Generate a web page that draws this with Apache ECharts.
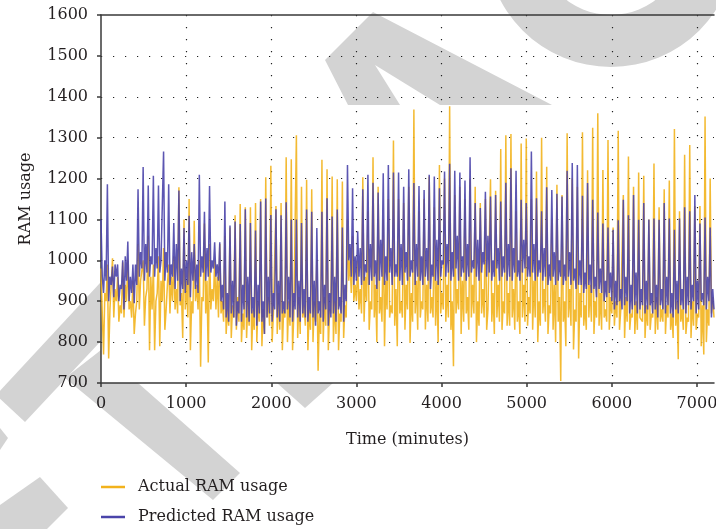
<!DOCTYPE html>
<html>
<head>
<meta charset="utf-8">
<title>RAM usage</title>
<script src="https://cdn.jsdelivr.net/npm/echarts@6/dist/echarts.min.js"></script>
<style>
  html, body { margin: 0; padding: 0; background: #fff; }
  #ramChart { width: 716px; height: 529px; }
</style>
</head>
<body>
<div id="ramChart"></div>
<script>
// one sample every 15 minutes
var STEP = 15;
var xRange = [0, 7200];
var yRange = [700, 1600];
var seriesNames = ['Actual RAM usage', 'Predicted RAM usage'];

var actualRam = [
  980,870,770,920, 900,990,760,880, 880,1005,860,930, 900,960,850,890, 870,995,860,940, 900,1000,880,900, 860,950,820,870, 900,1040,880,950, 950,1000,840,910, 930,1060,780,960,
  880,990,780,900, 920,1010,790,950, 900,1030,830,880, 940,990,870,960, 900,1010,880,930, 870,1179,890,920, 810,1100,880,950, 860,1150,780,900, 870,1097,900,940, 880,1000,740,910,
  900,1090,870,950, 750,1040,880,930, 900,1000,880,960, 860,1040,870,900, 850,1060,820,880, 840,1080,810,890, 860,1110,830,910, 850,1138,800,870, 830,1130,810,900, 840,1130,780,880,
  830,1140,800,900, 850,1150,790,880, 820,1203,860,910, 840,1231,800,870, 870,1133,820,920, 830,1140,780,880, 860,1252,800,900, 840,1247,780,870, 870,1306,810,910, 820,1180,860,890,
  840,1197,780,880, 830,1174,800,900, 850,1000,730,870, 820,1246,800,910, 840,1223,780,880, 870,1205,800,900, 820,1198,780,870, 850,1193,810,890, 860,1100,950,1000, 920,1060,900,940,
  900,1000,880,930, 870,1203,850,960, 900,1120,830,900, 880,1252,860,940, 800,1180,870,910, 850,1100,790,950, 880,1150,860,890, 870,1293,840,930, 790,1150,870,900, 860,1140,830,940,
  880,1180,798,920, 850,1369,870,950, 830,1120,860,900, 880,1150,831,940, 850,1205,870,910, 860,1130,840,950, 800,1233,870,920, 880,1200,850,940, 860,1377,830,900, 741,1160,870,930,
  880,1180,820,950, 850,1150,870,910, 830,1200,860,940, 870,1180,800,900, 840,1140,870,930, 860,1150,830,880, 880,1198,850,920, 820,1170,860,940, 850,1272,830,900, 870,1306,840,920,
  840,1309,860,930, 830,1120,850,900, 820,1286,860,940, 850,1298,840,910, 870,1150,830,950, 860,1217,800,900, 840,1300,870,930, 850,1229,820,890, 870,1100,830,940, 800,1185,850,910,
  705,1160,850,900, 790,1311,860,930, 840,1200,782,880, 850,1180,760,920, 860,1313,840,890, 830,1220,860,940, 850,1324,820,900, 860,1360,840,920, 830,1221,860,880, 850,1294,830,910,
  870,1080,840,900, 860,1317,830,880, 880,1160,810,910, 850,1254,830,870, 860,1180,820,900, 830,1215,860,860, 850,1207,810,890, 840,1100,830,870, 860,1237,820,910, 830,1130,850,880,
  850,1174,820,890, 860,1195,830,870, 810,1321,840,900, 758,1120,850,880, 830,1258,820,860, 850,1282,810,900, 840,1133,830,870, 860,1133,790,890, 770,1352,800,880, 840,1200,870,910,
  860
];

var predictedRam = [
  1100,960,920,1000, 950,1186,900,960, 940,985,910,990, 960,990,900,940, 930,1000,880,1010, 950,1046,900,960, 920,990,895,990, 940,1174,960,1020, 980,1228,950,1040, 970,1183,960,1010,
  990,1207,960,1030, 980,1183,970,1000, 1000,1266,950,1020, 970,1186,940,990, 960,1091,930,1040, 950,1171,900,980, 930,1079,920,1000, 940,1109,910,1020, 950,1040,930,990, 920,1209,960,1010,
  970,1119,950,1030, 960,1182,970,1000, 980,1044,960,990, 950,1044,900,940, 880,1144,860,920, 850,1085,870,950, 860,1095,840,900, 870,1089,850,940, 880,1125,860,960, 850,1091,870,910,
  860,1073,840,940, 870,1144,850,900, 820,1151,860,960, 870,1111,850,920, 880,1125,860,950, 850,1110,870,900, 870,1142,880,960, 860,1100,850,920, 880,1100,860,950, 850,1091,870,930,
  860,1124,850,910, 870,1119,860,950, 840,1079,870,900, 860,1119,850,940, 880,1152,840,920, 860,1107,870,960, 850,1124,880,910, 870,1080,850,940, 900,1233,1000,1040, 960,1176,940,1010,
  950,1071,960,1030, 940,1174,950,990, 970,1209,940,1040, 950,1190,960,1000, 930,1166,950,1050, 960,1213,940,1010, 950,1233,970,1030, 940,1215,960,990, 960,1215,950,1040, 940,1180,970,1020,
  950,1223,960,1000, 970,1189,940,1040, 960,1182,950,1010, 940,1172,960,1030, 950,1209,930,990, 960,1205,950,1050, 940,1176,960,1000, 990,1217,960,1040, 970,1236,950,1020, 960,1219,980,1060,
  950,1215,960,1010, 970,1195,950,1040, 960,1252,970,1000, 980,1140,960,1050, 950,1128,970,1020, 990,1168,960,1060, 970,1156,950,1000, 960,1160,980,1030, 950,1144,960,1010, 970,1190,950,1040,
  960,1225,950,1030, 970,1219,960,1000, 950,1148,970,1050, 980,1140,960,1010, 960,1266,970,1040, 950,1152,960,1000, 970,1120,950,1030, 960,1179,940,990, 950,1172,960,1020, 940,1163,950,1000,
  960,1156,940,990, 950,1219,960,1020, 940,1238,950,980, 930,1233,940,1000, 940,1158,920,970, 930,1189,940,990, 920,1148,930,960, 910,1117,930,980, 920,1090,900,950, 910,1080,920,970,
  900,1075,880,950, 890,1098,900,930, 880,1148,890,960, 900,1110,870,940, 880,1160,890,970, 870,1099,880,930, 890,1140,870,950, 880,1100,890,920, 870,1102,880,940, 860,1099,890,930,
  880,1140,870,960, 890,1102,870,920, 860,1075,880,950, 870,1102,890,930, 880,1130,870,960, 890,1120,880,940, 900,1160,870,950, 880,1090,900,920, 890,1105,880,960, 900,1080,860,930,
  880
];

function toPoints(values) {
  return values.map(function (v, i) { return [i * STEP, v]; });
}

var serif = 'DejaVu Serif';
var textColor = '#231f20';
var axisColor = '#3a3a3a';
var gray = '#d3d3d3';
var actualColor = '#f2b21c';
var predictedColor = '#4a44aa';

var dotted = { color: '#222', width: 1.2, type: [1.2, 10.8] };
var labelStyle = { fontFamily: serif, fontSize: 16, color: textColor };

function legendFor(name, top) {
  return {
    data: [name],
    orient: 'vertical',
    left: 101,
    top: top,
    padding: 0,
    icon: 'rect',
    itemWidth: 24,
    itemHeight: 2.5,
    selectedMode: false,
    textStyle: { fontFamily: serif, fontSize: 16, color: textColor, padding: [0, 0, 0, 8] }
  };
}

var ramChart = echarts.init(document.getElementById('ramChart'), null, { renderer: 'canvas' });

var option = {
  backgroundColor: '#fff',
  animation: false,
  // grey watermark pieces, behind axes and lines
  graphic: [
    { type: 'ring', z: 0, silent: true, shape: { cx: 611, cy: -58, r: 125, r0: 73 }, style: { fill: gray } },
    { type: 'polygon', z: 0, silent: true, shape: { points: [[325,60],[373,12],[552,105],[440,105],[375,65],[400,105],[348,105]] }, style: { fill: gray } },
    { type: 'polygon', z: 0, silent: true, shape: { points: [[-4,395],[100,283],[100,342],[25,422]] }, style: { fill: gray } },
    { type: 'polygon', z: 0, silent: true, shape: { points: [[65,378],[101,350],[101,383],[138,383],[240,473],[213,500]] }, style: { fill: gray } },
    { type: 'polygon', z: 0, silent: true, shape: { points: [[0,428],[8,438],[0,450]] }, style: { fill: gray } },
    { type: 'polygon', z: 0, silent: true, shape: { points: [[0,505],[40,477],[68,508],[47,529],[0,529]] }, style: { fill: gray } },
    { type: 'polygon', z: 0, silent: true, shape: { points: [[277,383],[333,383],[305,408]] }, style: { fill: gray } }
  ],
  grid: {
    left: 101, right: 2, top: 15, bottom: 146,
    containLabel: false,
    outerBoundsMode: 'none'
  },
  legend: [
    legendFor(seriesNames[0], 479),
    legendFor(seriesNames[1], 509)
  ],
  xAxis: [
    {
      type: 'value',
      z: 1,
      min: xRange[0],
      max: xRange[1],
      interval: 1000,
      name: 'Time (minutes)',
      nameLocation: 'middle',
      nameGap: 49,
      nameTextStyle: labelStyle,
      axisLine: { show: true, onZero: false, lineStyle: { color: axisColor, width: 1.5 } },
      axisTick: { show: true, length: 4, lineStyle: { color: axisColor, width: 1.5 } },
      axisLabel: {
        fontFamily: serif, fontSize: 16, color: textColor, margin: 13, showMaxLabel: false,
        formatter: function (v) { return String(v); }
      },
      splitLine: { show: true, showMinLine: false, showMaxLine: false, lineStyle: dotted }
    },
    {
      type: 'value',
      z: 1,
      position: 'top',
      min: xRange[0],
      max: xRange[1],
      axisLine: { show: true, lineStyle: { color: axisColor, width: 1.5 } },
      axisTick: { show: false },
      axisLabel: { show: false },
      splitLine: { show: false }
    }
  ],
  yAxis: {
    type: 'value',
    z: 1,
    min: yRange[0],
    max: yRange[1],
    interval: 100,
    name: 'RAM usage',
    nameLocation: 'middle',
    nameGap: 67,
    nameTextStyle: labelStyle,
    axisLine: { show: true, lineStyle: { color: axisColor, width: 1.5 } },
    axisTick: { show: true, length: 4, lineStyle: { color: axisColor, width: 1.5 } },
    axisLabel: {
      fontFamily: serif, fontSize: 16, color: textColor, margin: 13,
      formatter: function (v) { return String(v); }
    },
    splitLine: { show: true, showMinLine: false, showMaxLine: false, lineStyle: dotted }
  },
  series: [
    {
      name: seriesNames[0],
      type: 'line',
      data: toPoints(actualRam),
      showSymbol: false,
      symbol: 'none',
      color: actualColor,
      lineStyle: { color: actualColor, width: 1.5, opacity: 0.9 }
    },
    {
      name: seriesNames[1],
      type: 'line',
      data: toPoints(predictedRam),
      showSymbol: false,
      symbol: 'none',
      color: predictedColor,
      lineStyle: { color: predictedColor, width: 1.5, opacity: 0.9 }
    }
  ]
};

ramChart.setOption(option);
</script>
</body>
</html>
